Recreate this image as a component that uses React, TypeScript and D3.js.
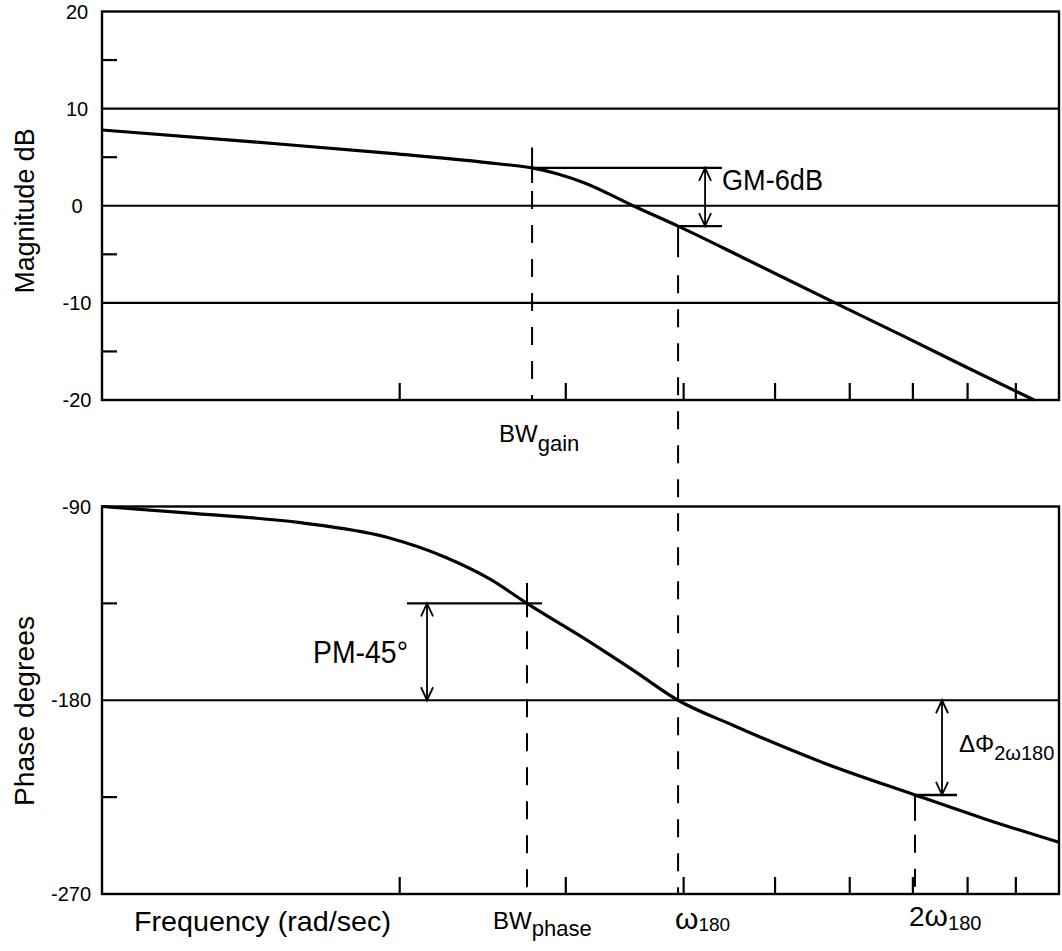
import React from "react";
import * as d3 from "d3";

// ---------- data ----------
const freqTicks = [2, 3, 4, 5, 6, 7, 8, 9];
const magMajorTicks = [20, 10, 0, -10, -20];
const magGridLines = [10, 0, -10];
const magMinorTicks = [15, 5, -5, -15];
const phaseMajorTicks = [-90, -180, -270];
const phaseGridLines = [-180];
const phaseMinorTicks = [-135, -225];

const magFreq = [0.967, 1.388, 1.958, 2.555, 2.763, 2.937, 3.151, 3.535, 3.946, 4.636, 5.76, 6.867, 7.969, 9.41];
const magDb = [7.8, 6.6, 5.4, 4.3, 3.9, 3.3, 2.3, 0.0, -2.1, -5.4, -9.9, -13.5, -16.6, -20];

const phaseFreq = [0.967, 1.207, 1.561, 1.934, 2.239, 2.499, 2.729, 3.183, 3.535, 3.946, 4.511, 5.622, 7.036, 8.328, 10];
const phaseDeg = [-90, -93.2, -97.4, -104.2, -113.7, -124, -135, -153, -166, -180, -191.6, -209, -224, -235, -246];

// annotation values
const bwGainFreq = 2.763;
const bwPhaseFreq = 2.729;
const w180Freq = 3.946;
const w2Freq = 7.036;
const gmTopDb = 3.9;
const gmBottomDb = -2.1;
const gmArrowFreq = 4.215;
const gmLineEndFreq = 4.393;
const pmTopDeg = -135;
const pmBottomDeg = -180;
const pmArrowFreq = 2.138;
const pmLineStartFreq = 2.036;
const pmLineEndFreq = 2.831;
const dPhiTopDeg = -180;
const dPhiBottomDeg = -224;
const dPhiArrowFreq = 7.516;
const dPhiLineEndFreq = 7.797;

// ---------- layout ----------
const W = 1062;
const H = 951;
const xDomain: [number, number] = [0.967, 10];
const x = d3.scaleLog().domain(xDomain).range([102, 1059]);
const magY = d3.scaleLinear().domain([20, -20]).range([11.5, 400]);
const phY = d3.scaleLinear().domain([-90, -270]).range([506.5, 894]);

const FONT = "'Liberation Sans', Arial, sans-serif";
const INK = "#000";
const DASH = "18 16";

function arrow(ax: number, y1: number, y2: number) {
  const h = 13, w = 6;
  return `M${ax},${y1}L${ax},${y2}` +
    `M${ax - w},${y1 + h}L${ax},${y1}L${ax + w},${y1 + h}` +
    `M${ax - w},${y2 - h}L${ax},${y2}L${ax + w},${y2 - h}`;
}

function Label(props: { x: number; y: number; text: string; size: number; len?: number; anchor?: string; transform?: string }) {
  const { text, size, len, anchor, transform } = props;
  return (
    <text
      x={transform ? 0 : props.x}
      y={transform ? 0 : props.y}
      transform={transform}
      fontFamily={FONT}
      fontSize={size}
      textAnchor={anchor || "start"}
      textLength={len}
      lengthAdjust={len ? "spacingAndGlyphs" : undefined}
      fill={INK}
    >
      {text}
    </text>
  );
}

// text with a lowered (subscript-like) part, kept as one text element
function SubLabel(props: {
  x: number; y: number; pre?: string; preSize?: number; main: string; mainSize: number;
  sub: string; subSize: number; subDy: number;
}) {
  const { pre, preSize, main, mainSize, sub, subSize, subDy } = props;
  return (
    <text x={props.x} y={props.y} fontFamily={FONT} fill={INK}>
      {pre ? <tspan fontSize={preSize}>{pre}</tspan> : null}
      <tspan fontSize={mainSize}>{main}</tspan>
      <tspan fontSize={subSize} dy={subDy}>{sub}</tspan>
    </text>
  );
}

export default function App() {
  const magLine = d3
    .line<number>()
    .x((_, i) => x(magFreq[i]))
    .y((d) => magY(d))
    .curve(d3.curveMonotoneX);
  const phLine = d3
    .line<number>()
    .x((_, i) => x(phaseFreq[i]))
    .y((d) => phY(d))
    .curve(d3.curveMonotoneX);

  const [x0, x1] = x.range();
  const magTop = magY(20), magBot = magY(-20);
  const phTop = phY(-90), phBot = phY(-270);

  const xbg = x(bwGainFreq);
  const xbp = x(bwPhaseFreq);
  const xw = x(w180Freq);
  const xw2 = x(w2Freq);

  return (
    <svg width={W} height={H} style={{ position: "absolute", left: 0, top: 0, background: "#fff" }}>
      <rect x={0} y={0} width={W} height={H} fill="#fff" />
      <g stroke={INK} fill="none" strokeLinecap="butt">
        {/* magnitude frame */}
        <rect x={x0} y={magTop} width={x1 - x0} height={magBot - magTop} strokeWidth={2.4} />
        {magGridLines.map((v) => (
          <line key={"mg" + v} x1={x0} x2={x1} y1={magY(v)} y2={magY(v)} strokeWidth={2.2} />
        ))}
        {magMinorTicks.map((v) => (
          <line key={"mm" + v} x1={x0} x2={x0 + 15} y1={magY(v)} y2={magY(v)} strokeWidth={2.2} />
        ))}
        {freqTicks.map((f) => (
          <line key={"mt" + f} x1={x(f)} x2={x(f)} y1={magBot} y2={magBot - 17} strokeWidth={2.2} />
        ))}

        {/* phase frame */}
        <rect x={x0} y={phTop} width={x1 - x0} height={phBot - phTop} strokeWidth={2.4} />
        {phaseGridLines.map((v) => (
          <line key={"pg" + v} x1={x0} x2={x1} y1={phY(v)} y2={phY(v)} strokeWidth={2.2} />
        ))}
        {phaseMinorTicks.map((v) => (
          <line key={"pm" + v} x1={x0} x2={x0 + 15} y1={phY(v)} y2={phY(v)} strokeWidth={2.2} />
        ))}
        {freqTicks.map((f) => (
          <line key={"pt" + f} x1={x(f)} x2={x(f)} y1={phBot} y2={phBot - 17} strokeWidth={2.2} />
        ))}

        {/* curves */}
        <path d={magLine(magDb) || ""} strokeWidth={3.2} strokeLinejoin="round" />
        <path d={phLine(phaseDeg) || ""} strokeWidth={3.2} strokeLinejoin="round" />

        {/* BW gain marker */}
        <line x1={xbg} x2={xbg} y1={magY(6.0)} y2={magY(2.35)} strokeWidth={2} />
        <line x1={xbg} x2={xbg} y1={magY(2.35) + 8} y2={magBot} strokeWidth={2} strokeDasharray={DASH} />
        {/* GM lines + arrow */}
        <line x1={xbg} x2={x(gmLineEndFreq)} y1={magY(gmTopDb)} y2={magY(gmTopDb)} strokeWidth={2.4} />
        <line x1={xw} x2={x(gmLineEndFreq)} y1={magY(gmBottomDb)} y2={magY(gmBottomDb)} strokeWidth={2.4} />
        <path d={arrow(x(gmArrowFreq), magY(gmTopDb), magY(gmBottomDb))} strokeWidth={1.8} />

        {/* omega180 marker through both panels */}
        <line x1={xw} x2={xw} y1={magY(gmBottomDb)} y2={magY(-5.3)} strokeWidth={2} />
        <line x1={xw} x2={xw} y1={magY(-5.3) + 18} y2={phBot} strokeWidth={2} strokeDasharray={DASH} />

        {/* BW phase marker */}
        <line x1={xbp} x2={xbp} y1={phY(-125.5)} y2={phY(-141.5)} strokeWidth={2} />
        <line x1={xbp} x2={xbp} y1={phY(-141.5) + 14} y2={phBot} strokeWidth={2} strokeDasharray={DASH} />
        {/* PM line + arrow */}
        <line x1={x(pmLineStartFreq)} x2={x(pmLineEndFreq)} y1={phY(pmTopDeg)} y2={phY(pmTopDeg)} strokeWidth={2.4} />
        <path d={arrow(x(pmArrowFreq), phY(pmTopDeg), phY(pmBottomDeg))} strokeWidth={1.8} />

        {/* 2 omega180 marker */}
        <line x1={xw2} x2={xw2} y1={phY(dPhiBottomDeg)} y2={phY(-236)} strokeWidth={2} />
        <line x1={xw2} x2={xw2} y1={phY(-236) + 14} y2={phBot} strokeWidth={2} strokeDasharray={DASH} />
        <line x1={xw2} x2={x(dPhiLineEndFreq)} y1={phY(dPhiBottomDeg)} y2={phY(dPhiBottomDeg)} strokeWidth={2.4} />
        <path d={arrow(x(dPhiArrowFreq), phY(dPhiTopDeg), phY(dPhiBottomDeg))} strokeWidth={1.8} />
      </g>

      {/* tick labels */}
      {magMajorTicks.map((v) => (
        <text key={"ml" + v} x={77} y={magY(v)} dy="0.36em" fontFamily={FONT} fontSize={20} textAnchor="middle">
          {String(v)}
        </text>
      ))}
      {phaseMajorTicks.map((v) => (
        <text key={"pl" + v} x={91} y={phY(v)} dy="0.36em" fontFamily={FONT} fontSize={20} textAnchor="end">
          {String(v)}
        </text>
      ))}

      {/* axis titles */}
      <Label x={0} y={0} text="Magnitude dB" size={28} len={165} anchor="middle" transform="translate(34,211) rotate(-90)" />
      <Label x={0} y={0} text="Phase degrees" size={28} len={190} anchor="middle" transform="translate(34,711) rotate(-90)" />
      <Label x={134} y={931} text="Frequency (rad/sec)" size={28} len={257} />

      {/* BW gain label */}
      <SubLabel x={499} y={442} main="BW" mainSize={24} sub="gain" subSize={22} subDy={9} />

      {/* bottom labels */}
      <SubLabel x={493} y={929} main="BW" mainSize={24} sub="phase" subSize={22} subDy={7} />
      <SubLabel x={675} y={929} main="ω" mainSize={30} sub="180" subSize={19} subDy={2} />
      <SubLabel x={909} y={926} pre="2" preSize={28} main="ω" mainSize={30} sub="180" subSize={20} subDy={4} />

      {/* annotation texts */}
      <Label x={722} y={190} text="GM-6dB" size={30} len={101} />
      <Label x={313} y={663} text="PM-45°" size={31} len={95} />
      <SubLabel x={959} y={752} main="ΔΦ" mainSize={24} sub="2ω180" subSize={20} subDy={8} />
    </svg>
  );
}
